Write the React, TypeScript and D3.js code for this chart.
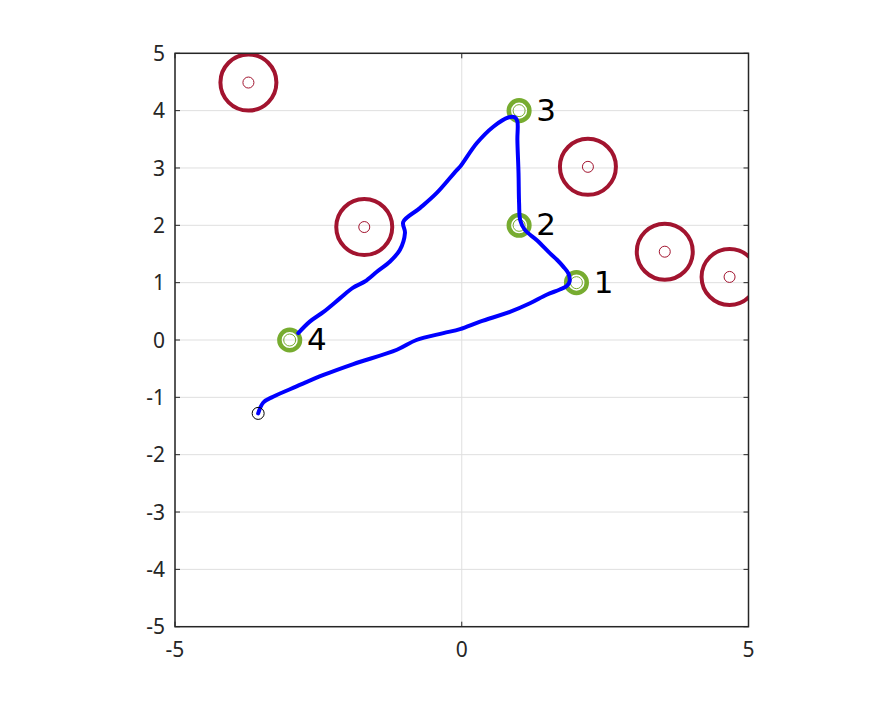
import React from "react";
import * as d3 from "d3";

const obstacleX = [-3.72, -1.7, 2.2, 3.54, 4.67];
const obstacleY = [4.49, 1.97, 3.02, 1.54, 1.1];
const targetX = [2, 1, 1, -3];
const targetY = [1, 2, 4, 0];
const targetLabels = ["1", "2", "3", "4"];
const startX = -3.55;
const startY = -1.28;
const pathX = [-3.55, -3.46, -3.29, -2.88, -2.41, -1.89, -1.13, -0.79, -0.32, -0.03, 0.32, 0.84, 1.19, 1.48, 1.71, 1.83, 1.88, 1.86, 1.77, 1.66, 1.54, 1.31, 1.1, 1.02, 1.0, 0.99, 0.97, 0.97, 0.93, 0.81, 0.55, 0.26, -0.03, -0.09, -0.44, -0.73, -1.02, -0.99, -1.08, -1.25, -1.48, -1.69, -1.9, -2.12, -2.41, -2.65, -2.85];
const pathY = [-1.28, -1.09, -0.99, -0.81, -0.61, -0.42, -0.17, 0.0, 0.12, 0.19, 0.32, 0.49, 0.64, 0.79, 0.88, 0.94, 1.02, 1.16, 1.28, 1.4, 1.51, 1.74, 1.92, 2.09, 2.38, 2.91, 3.49, 3.81, 3.88, 3.88, 3.72, 3.43, 3.02, 2.96, 2.56, 2.3, 2.06, 1.87, 1.57, 1.37, 1.19, 1.02, 0.91, 0.73, 0.49, 0.32, 0.12];
const xTicks = [-5, 0, 5];
const yTicks = [-5, -4, -3, -2, -1, 0, 1, 2, 3, 4, 5];

export default function App() {
  const left = 175, right = 748.5, top = 53.3, bottom = 626.7;
  const x = d3.scaleLinear().domain([-5, 5]).range([left, right]);
  const y = d3.scaleLinear().domain([-5, 5]).range([bottom, top]);
  const line = d3
    .line<number>()
    .x((_, i) => x(pathX[i]))
    .y((_, i) => y(pathY[i]))
    .curve(d3.curveCatmullRom.alpha(0.5));
  const axisColor = "#262626";
  const tickLen = 5;
  const font = "'Noto Sans', 'DejaVu Sans', sans-serif";
  return (
    <svg width={891} height={703} style={{ position: "absolute", left: 0, top: 0, background: "#fff" }}>
      <defs>
        <clipPath id="plotclip">
          <rect x={left} y={top} width={right - left} height={bottom - top} />
        </clipPath>
      </defs>
      <rect x={0} y={0} width={891} height={703} fill="#fff" />
      {xTicks.map((t) => (
        <line key={"gx" + t} x1={x(t)} x2={x(t)} y1={top} y2={bottom} stroke="#dfdfdf" strokeWidth={1} />
      ))}
      {yTicks.map((t) => (
        <line key={"gy" + t} x1={left} x2={right} y1={y(t)} y2={y(t)} stroke="#dfdfdf" strokeWidth={1} />
      ))}
      <g clipPath="url(#plotclip)">
        {obstacleX.map((ox, i) => (
          <g key={"ob" + i}>
            <circle cx={x(ox)} cy={y(obstacleY[i])} r={28} fill="none" stroke="#a2142f" strokeWidth={4} />
            <circle cx={x(ox)} cy={y(obstacleY[i])} r={5.5} fill="none" stroke="#a2142f" strokeWidth={1} />
          </g>
        ))}
        {targetX.map((tx, i) => (
          <g key={"tg" + i}>
            <circle cx={x(tx)} cy={y(targetY[i])} r={10.3} fill="none" stroke="#77ac30" strokeWidth={4.5} />
            <circle cx={x(tx)} cy={y(targetY[i])} r={6} fill="none" stroke="#77ac30" strokeWidth={1} />
          </g>
        ))}
        <path d={line(pathX) || ""} fill="none" stroke="#0000ff" strokeWidth={4} strokeLinejoin="round" strokeLinecap="round" />
        <circle cx={x(startX)} cy={y(startY)} r={6} fill="none" stroke="#000" strokeWidth={1} />
      </g>
      {targetX.map((tx, i) => (
        <text key={"lb" + i} x={x(tx) + 0.3 * 57.35} y={y(targetY[i]) + 10} fontSize={31} fontFamily="'DejaVu Sans', sans-serif" fill="#000">
          {targetLabels[i]}
        </text>
      ))}
      <rect x={left} y={top} width={right - left} height={bottom - top} fill="none" stroke={axisColor} strokeWidth={1.5} />
      {xTicks.map((t) => (
        <g key={"tx" + t}>
          <line x1={x(t)} x2={x(t)} y1={bottom} y2={bottom - tickLen} stroke={axisColor} />
          <line x1={x(t)} x2={x(t)} y1={top} y2={top + tickLen} stroke={axisColor} />
          <text x={x(t)} y={657} textAnchor="middle" fontSize={21} fontFamily={font} fill={axisColor}>
            {t}
          </text>
        </g>
      ))}
      {yTicks.map((t) => (
        <g key={"ty" + t}>
          <line x1={left} x2={left + tickLen} y1={y(t)} y2={y(t)} stroke={axisColor} />
          <line x1={right} x2={right - tickLen} y1={y(t)} y2={y(t)} stroke={axisColor} />
          <text x={165} y={y(t)} dy="0.36em" textAnchor="end" fontSize={21} fontFamily={font} fill={axisColor}>
            {t}
          </text>
        </g>
      ))}
    </svg>
  );
}
